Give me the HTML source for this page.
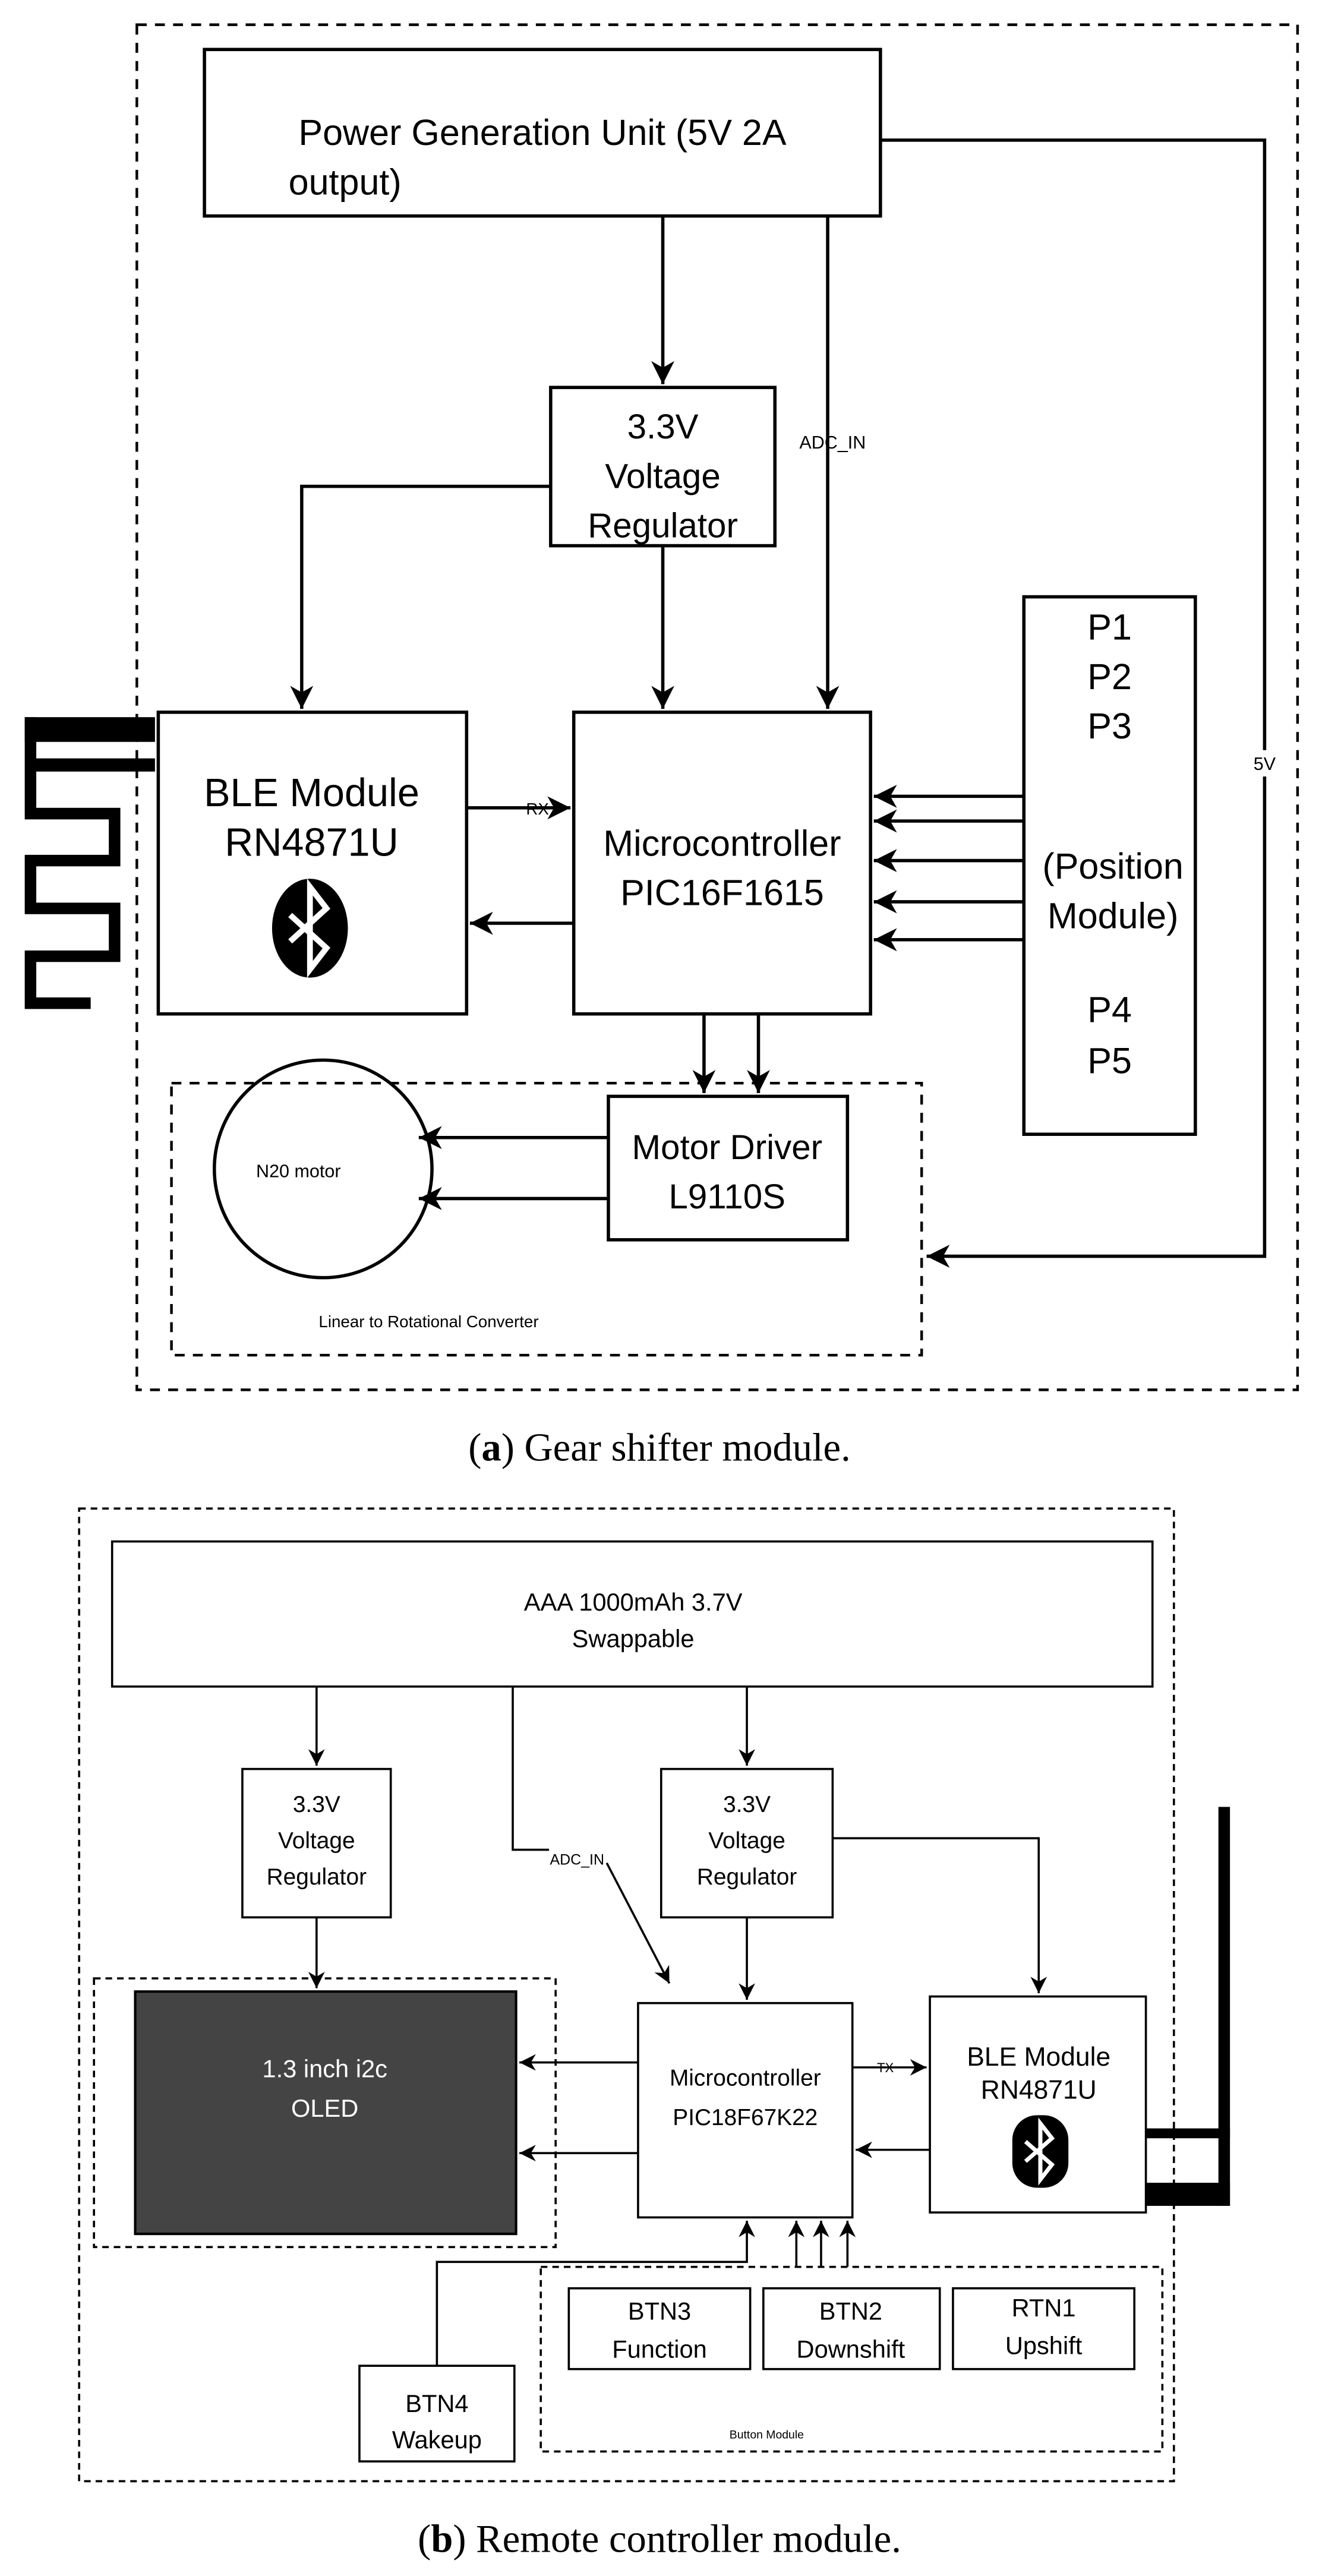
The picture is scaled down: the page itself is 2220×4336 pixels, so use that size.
<!DOCTYPE html>
<html><head><meta charset="utf-8"><style>html,body{margin:0;padding:0;background:#fff}svg{display:block}</style></head>
<body>
<svg width="2220" height="4336" viewBox="0 0 800 1562.5" xmlns="http://www.w3.org/2000/svg" font-family="'Liberation Sans', Arial, sans-serif">
<defs>
<marker id="a" markerUnits="userSpaceOnUse" markerWidth="20" markerHeight="20" refX="14" refY="7" orient="auto"><path d="M0,0 L14,7 L0,14 L4,7 Z" fill="#000"/></marker>
<marker id="b" markerUnits="userSpaceOnUse" markerWidth="14" markerHeight="14" refX="10" refY="5" orient="auto"><path d="M0,0 L10,5 L0,10 L3,5 Z" fill="#000"/></marker>
</defs>
<rect width="800" height="1562.5" fill="#fff"/>
<!-- ===== (a) ===== -->
<g fill="none" stroke="#000" stroke-width="2">
<rect x="83" y="15" width="704" height="828" stroke-dasharray="6,5" stroke-width="1.6"/>
<rect x="124" y="30" width="410" height="101"/>
<rect x="334" y="235" width="136" height="96"/>
<rect x="96" y="432" width="187" height="183"/>
<rect x="348" y="432" width="180" height="183"/>
<rect x="621" y="362" width="104" height="326"/>
<rect x="104" y="657" width="455" height="165" stroke-dasharray="6,5" stroke-width="1.6"/>
<rect x="369" y="665" width="145" height="87"/>
<circle cx="196" cy="709" r="66"/>
<path d="M402,131 V233" marker-end="url(#a)"/>
<path d="M334,295 H183 V430" marker-end="url(#a)"/>
<path d="M402,331 V430" marker-end="url(#a)"/>
<path d="M502,131 V430" marker-end="url(#a)"/>
<path d="M534,85 H767 V762 H562" marker-end="url(#a)"/>
<path d="M283,490 H346" marker-end="url(#a)"/>
<path d="M348,560 H285" marker-end="url(#a)"/>
<path d="M621,483 H530" marker-end="url(#a)"/>
<path d="M621,498 H530" marker-end="url(#a)"/>
<path d="M621,522 H530" marker-end="url(#a)"/>
<path d="M621,547 H530" marker-end="url(#a)"/>
<path d="M621,570 H530" marker-end="url(#a)"/>
<path d="M427,615 V663" marker-end="url(#a)"/>
<path d="M460,615 V663" marker-end="url(#a)"/>
<path d="M369,690 H254" marker-end="url(#a)"/>
<path d="M369,727 H254" marker-end="url(#a)"/>
</g>
<!-- antenna left -->
<rect x="15" y="435" width="79" height="15" fill="#000"/>
<rect x="18" y="460" width="76" height="8" fill="#000"/>
<path d="M18.5,435 V493.5 H69.5 V522 H18.5 V551 H69.5 V580 H18.5 V608.5 H55" fill="none" stroke="#000" stroke-width="7"/>
<!-- bt icon top -->
<g transform="translate(188,563)">
<ellipse cx="0" cy="0" rx="23" ry="30" fill="#000"/>
<path d="M-12,-8 L10,12 L0,25 V-25 L10,-12 L-12,8" fill="none" stroke="#fff" stroke-width="3.5"/>
</g>
<rect x="752" y="455" width="30" height="16" fill="#fff"/>
<g fill="#000" text-anchor="middle">
<text x="329" y="88" font-size="22">Power Generation Unit (5V 2A</text>
<text x="175" y="118" font-size="22" text-anchor="start">output)</text>
<text x="402" y="266" font-size="21">3.3V</text>
<text x="402" y="296" font-size="21">Voltage</text>
<text x="402" y="326" font-size="21">Regulator</text>
<text x="505" y="272" font-size="11">ADC_IN</text>
<text x="767" y="467" font-size="11">5V</text>
<text x="189" y="489" font-size="24">BLE Module</text>
<text x="189" y="519" font-size="24">RN4871U</text>
<text x="326" y="494" font-size="10">RX</text>
<text x="438" y="519" font-size="22">Microcontroller</text>
<text x="438" y="549" font-size="22">PIC16F1615</text>
<text x="673" y="388" font-size="22">P1</text>
<text x="673" y="418" font-size="22">P2</text>
<text x="673" y="448" font-size="22">P3</text>
<text x="675" y="533" font-size="22">(Position</text>
<text x="675" y="563" font-size="22">Module)</text>
<text x="673" y="620" font-size="22">P4</text>
<text x="673" y="651" font-size="22">P5</text>
<text x="441" y="703" font-size="21">Motor Driver</text>
<text x="441" y="733" font-size="21">L9110S</text>
<text x="181" y="714" font-size="11">N20 motor</text>
<text x="260" y="805" font-size="10">Linear to Rotational Converter</text>
<text x="400" y="886" font-size="24" font-family="'Liberation Serif', serif">(<tspan font-weight="bold">a</tspan>) Gear shifter module.</text>
</g>
<!-- ===== (b) ===== -->
<g fill="none" stroke="#000" stroke-width="1.3">
<rect x="48" y="915" width="664" height="590" stroke-dasharray="4,3"/>
<rect x="68" y="935" width="631" height="88"/>
<rect x="147" y="1073" width="90" height="90"/>
<rect x="401" y="1073" width="104" height="90"/>
<rect x="57" y="1200" width="280" height="163" stroke-dasharray="4,3"/>
<rect x="387" y="1215" width="130" height="130"/>
<rect x="564" y="1211" width="131" height="131"/>
<rect x="328" y="1375" width="377" height="112" stroke-dasharray="4,3"/>
<rect x="345" y="1388" width="110" height="49"/>
<rect x="463" y="1388" width="107" height="49"/>
<rect x="578" y="1388" width="110" height="49"/>
<rect x="218" y="1435" width="94" height="58"/>
<path d="M192,1023 V1071" marker-end="url(#b)"/>
<path d="M453,1023 V1071" marker-end="url(#b)"/>
<path d="M311,1023 V1122 H333 M368,1130 L406,1203" marker-end="url(#b)"/>
<path d="M192,1163 V1206" marker-end="url(#b)"/>
<path d="M453,1163 V1213" marker-end="url(#b)"/>
<path d="M505,1115 H630 V1209" marker-end="url(#b)"/>
<path d="M387,1251 H315" marker-end="url(#b)"/>
<path d="M387,1306 H315" marker-end="url(#b)"/>
<path d="M517,1254 H562" marker-end="url(#b)"/>
<path d="M564,1304 H519" marker-end="url(#b)"/>
<path d="M265,1435 V1372 H453 V1347" marker-end="url(#b)"/>
<path d="M483,1375 V1347" marker-end="url(#b)"/>
<path d="M498,1375 V1347" marker-end="url(#b)"/>
<path d="M514,1375 V1347" marker-end="url(#b)"/>
</g>
<rect x="82" y="1208" width="231" height="147" fill="#444" stroke="#000" stroke-width="1.5"/>
<!-- antenna right -->
<rect x="739" y="1096" width="7" height="242" fill="#000"/>
<rect x="695" y="1291" width="51" height="6" fill="#000"/>
<rect x="695" y="1324" width="51" height="14" fill="#000"/>
<g transform="translate(631,1305)">
<rect x="-17" y="-22" width="34" height="44" rx="15" fill="#000"/>
<path d="M-9,-6 L7,8 L0,17 V-17 L7,-8 L-9,6" fill="none" stroke="#fff" stroke-width="2.5"/>
</g>
<g fill="#000" text-anchor="middle">
<text x="384" y="977" font-size="15">AAA 1000mAh 3.7V</text>
<text x="384" y="999" font-size="15">Swappable</text>
<text x="192" y="1099" font-size="14">3.3V</text>
<text x="192" y="1121" font-size="14">Voltage</text>
<text x="192" y="1143" font-size="14">Regulator</text>
<text x="453" y="1099" font-size="14">3.3V</text>
<text x="453" y="1121" font-size="14">Voltage</text>
<text x="453" y="1143" font-size="14">Regulator</text>
<text x="350" y="1131" font-size="9">ADC_IN</text>
<text x="197" y="1260" font-size="15" fill="#fff">1.3 inch i2c</text>
<text x="197" y="1284" font-size="15" fill="#fff">OLED</text>
<text x="452" y="1265" font-size="14">Microcontroller</text>
<text x="452" y="1289" font-size="14">PIC18F67K22</text>
<text x="537" y="1257" font-size="8">TX</text>
<text x="630" y="1253" font-size="16">BLE Module</text>
<text x="630" y="1273" font-size="16">RN4871U</text>
<text x="400" y="1407" font-size="15">BTN3</text>
<text x="400" y="1430" font-size="15">Function</text>
<text x="516" y="1407" font-size="15">BTN2</text>
<text x="516" y="1430" font-size="15">Downshift</text>
<text x="633" y="1405" font-size="15">RTN1</text>
<text x="633" y="1428" font-size="15">Upshift</text>
<text x="265" y="1463" font-size="15">BTN4</text>
<text x="265" y="1485" font-size="15">Wakeup</text>
<text x="465" y="1479" font-size="7">Button Module</text>
<text x="400" y="1548" font-size="24" font-family="'Liberation Serif', serif">(<tspan font-weight="bold">b</tspan>) Remote controller module.</text>
</g>
</svg>
</body></html>
